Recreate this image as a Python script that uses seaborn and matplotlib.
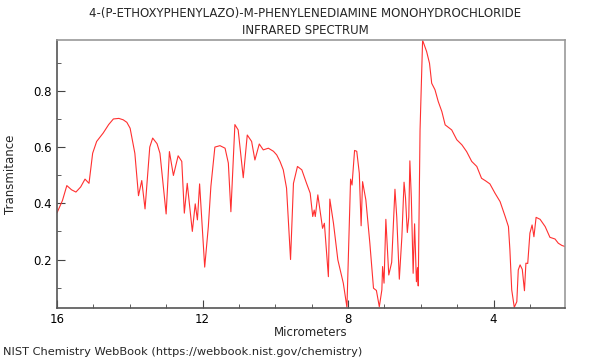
import numpy as np
import pandas as pd
import matplotlib
matplotlib.use("Agg")
import matplotlib.pyplot as plt
import seaborn as sns
from matplotlib.ticker import MultipleLocator

# spectrum points (micrometers, transmittance)
wavelength = [
    16.00, 15.85, 15.73, 15.60, 15.48, 15.35, 15.23, 15.12, 15.02, 14.91,
    14.73, 14.58, 14.45, 14.30, 14.18, 14.08, 13.99, 13.86, 13.76, 13.67,
    13.58, 13.45, 13.37, 13.25, 13.17, 13.00, 12.91, 12.80, 12.67, 12.57,
    12.50, 12.42, 12.28, 12.20, 12.14, 12.08, 11.94, 11.84, 11.77, 11.66,
    11.52, 11.38, 11.29, 11.22, 11.11, 11.02, 10.88, 10.77, 10.65, 10.56,
    10.44, 10.33, 10.19, 10.05, 9.96, 9.87, 9.78, 9.69, 9.58, 9.50,
    9.39, 9.27, 9.14, 9.04, 8.97, 8.93, 8.90, 8.83, 8.70, 8.65,
    8.54, 8.50, 8.40, 8.28, 8.13, 8.03, 7.97, 7.93, 7.89, 7.82,
    7.76, 7.69, 7.64, 7.60, 7.51, 7.40, 7.30, 7.22, 7.14, 7.07,
    7.05, 7.01, 6.96, 6.88, 6.80, 6.71, 6.66, 6.59, 6.52, 6.46,
    6.42, 6.37, 6.33, 6.30, 6.26, 6.21, 6.17, 6.12, 6.09, 6.07,
    6.02, 5.95, 5.84, 5.76, 5.70, 5.61, 5.52, 5.42, 5.33, 5.24,
    5.15, 5.01, 4.87, 4.74, 4.60, 4.46, 4.33, 4.22, 4.10, 3.96,
    3.82, 3.68, 3.59, 3.55, 3.50, 3.43, 3.36, 3.32, 3.27, 3.21,
    3.15, 3.11, 3.06, 3.00, 2.94, 2.89, 2.83, 2.72, 2.58, 2.45,
    2.31, 2.22, 2.12, 2.03,
]
transmittance = [
    0.366, 0.410, 0.463, 0.448, 0.440, 0.458, 0.486, 0.471, 0.578, 0.620,
    0.650, 0.680, 0.700, 0.702, 0.697, 0.688, 0.667, 0.578, 0.427, 0.481,
    0.380, 0.600, 0.632, 0.612, 0.578, 0.362, 0.584, 0.499, 0.569, 0.549,
    0.365, 0.471, 0.300, 0.398, 0.341, 0.469, 0.173, 0.317, 0.460, 0.600,
    0.605, 0.596, 0.543, 0.370, 0.680, 0.661, 0.491, 0.643, 0.620, 0.554,
    0.611, 0.590, 0.596, 0.585, 0.572, 0.549, 0.519, 0.454, 0.200, 0.471,
    0.531, 0.519, 0.471, 0.436, 0.353, 0.376, 0.353, 0.430, 0.311, 0.329,
    0.139, 0.415, 0.329, 0.199, 0.116, 0.030, 0.305, 0.486, 0.465, 0.588,
    0.585, 0.507, 0.320, 0.477, 0.412, 0.258, 0.098, 0.090, 0.032, 0.092,
    0.175, 0.116, 0.343, 0.145, 0.190, 0.450, 0.350, 0.130, 0.280, 0.475,
    0.420, 0.296, 0.350, 0.551, 0.420, 0.151, 0.327, 0.121, 0.171, 0.106,
    0.661, 0.980, 0.940, 0.898, 0.827, 0.804, 0.762, 0.726, 0.679, 0.670,
    0.661, 0.626, 0.608, 0.584, 0.549, 0.531, 0.489, 0.480, 0.469, 0.436,
    0.406, 0.353, 0.317, 0.234, 0.092, 0.030, 0.050, 0.163, 0.181, 0.165,
    0.089, 0.187, 0.186, 0.294, 0.323, 0.281, 0.350, 0.343, 0.317, 0.279,
    0.273, 0.258, 0.250, 0.246,
]

df = pd.DataFrame({"Micrometers": wavelength, "Transmitance": transmittance})

sns.set_style("white")
plt.rcParams["font.family"] = ["DejaVu Sans"]

fig = plt.figure(figsize=(6, 3.6), dpi=100)
ax = fig.add_axes([0.095, 0.144, 0.847, 0.745])

sns.lineplot(data=df, x="Micrometers", y="Transmitance", sort=False,
             color="#ff3030", linewidth=0.8, ax=ax)

ax.set_xlim(16, 2.03)
ax.set_ylim(0.027, 0.981)
ax.xaxis.set_major_locator(MultipleLocator(4))
ax.xaxis.set_minor_locator(MultipleLocator(1))
ax.yaxis.set_major_locator(MultipleLocator(0.2))
ax.yaxis.set_minor_locator(MultipleLocator(0.1))
ax.tick_params(which="both", direction="in", colors="#444444", labelcolor="black",
               labelsize=8.5, bottom=True, left=True)
ax.tick_params(which="major", length=6)
ax.tick_params(which="minor", length=3)

for side in ["top", "right"]:
    ax.spines[side].set_color("#999999")
for side in ["left", "bottom"]:
    ax.spines[side].set_color("#555555")
for sp in ax.spines.values():
    sp.set_linewidth(1.2)

ax.set_xlabel("Micrometers", fontsize=8.5, labelpad=0)
ax.set_ylabel("Transmitance", fontsize=8.5, labelpad=12)
fig.text(305 / 600, 1 - 13 / 360,
         "4-(P-ETHOXYPHENYLAZO)-M-PHENYLENEDIAMINE MONOHYDROCHLORIDE",
         fontsize=8.5, ha="center", va="center")
fig.text(305 / 600, 1 - 30 / 360, "INFRARED SPECTRUM",
         fontsize=8.5, ha="center", va="center")
fig.text(0.005, 1 - 352 / 360, "NIST Chemistry WebBook (https://webbook.nist.gov/chemistry)",
         fontsize=8.2, ha="left", va="center")

fig.savefig("out.png", dpi=100)
